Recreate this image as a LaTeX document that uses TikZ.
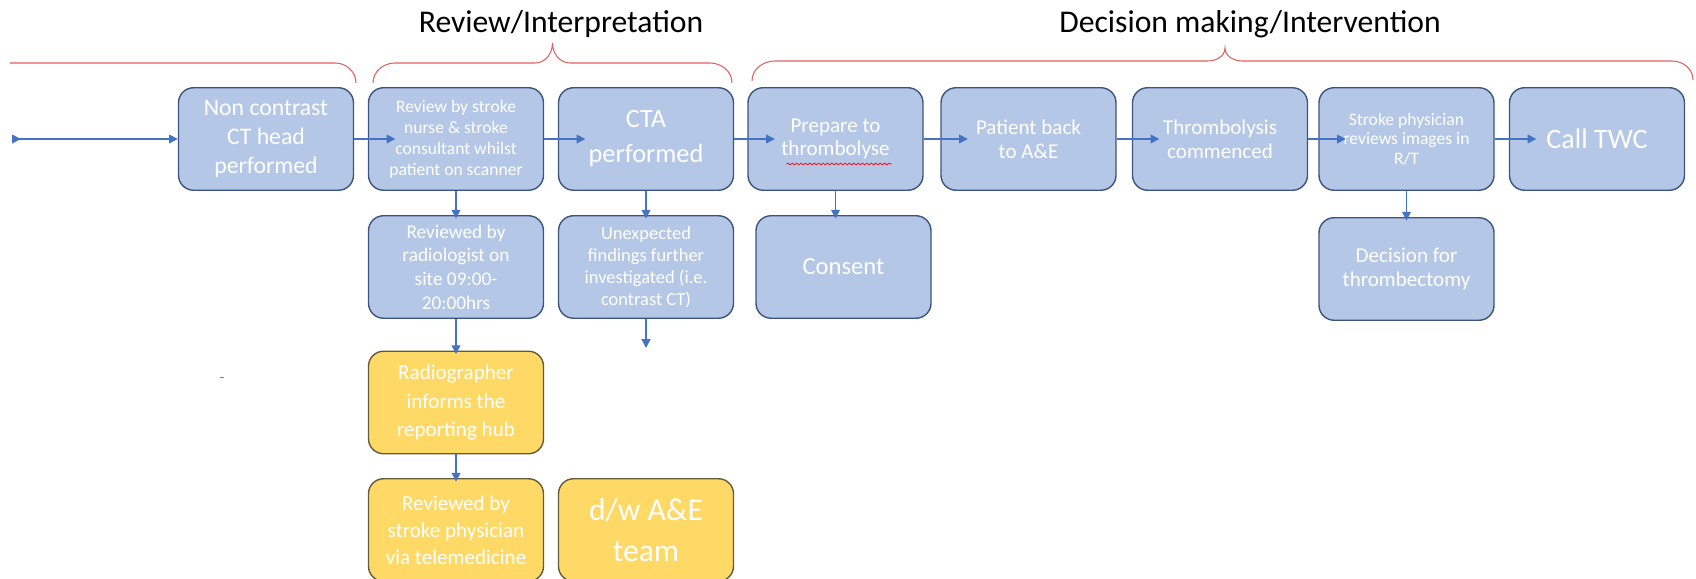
\documentclass[tikz,border=0pt]{standalone}
\usepackage{fontspec}
\setmainfont{Carlito}
\usetikzlibrary{arrows.meta,decorations.pathmorphing}

\definecolor{boxblue}{RGB}{180,199,231}
\definecolor{boxedge}{RGB}{60,84,128}
\definecolor{hubyellow}{RGB}{255,217,102}
\definecolor{hubedge}{RGB}{100,90,60}
\definecolor{flowblue}{RGB}{68,114,196}
\definecolor{bracketred}{RGB}{226,96,96}

\newcommand{\sz}[2]{\fontsize{#1}{#2}\selectfont}

\begin{document}
\begin{tikzpicture} [scale = 1,
  stepbox/.style = {draw = boxedge, fill = boxblue, line width = 0.8pt, rounded corners = 0.3cm,
    minimum width = 3.5cm, minimum height = 2.05cm, inner sep = 1pt, align = center, text = white},
  hubbox/.style = {stepbox, draw = hubedge, fill = hubyellow},
  flow/.style = {flowblue, line width = 0.8pt, -{Triangle[length = 5pt, width = 5pt]}},
  bracket/.style = {bracketred, line width = 0.6pt}]
\useasboundingbox (0.0, 0.0) rectangle (33.92, 11.58);
\node[anchor = base, font = \sz{18}{20}] (review) at (11.22, 10.92) {Review/Interpretation};
\node[anchor = base, font = \sz{18}{20}] (decision) at (25.0, 10.92) {Decision making/Intervention};
\draw[bracket] (0.2, 10.32) -- (6.7, 10.32) to[out = 0, in = 90] (7.12, 9.92);
\draw[bracket] (7.46, 9.92) to[out = 90, in = 180] (7.9, 10.32) -- (10.7, 10.32) to[out = 0, in = -90] (11.05, 10.72)
  to[out = -90, in = 180] (11.4, 10.32) -- (14.2, 10.32) to[out = 0, in = 90] (14.64, 9.92);
\draw[bracket] (15.04, 9.96) to[out = 90, in = 180] (15.5, 10.36) -- (24.15, 10.36) to[out = 0, in = -90] (24.5, 10.62)
  to[out = -90, in = 180] (24.85, 10.36) -- (33.44, 10.36) to[out = 0, in = 90] (33.86, 9.98);
\node[stepbox, font = \sz{13.5}{16.5}] (nc) at (5.32, 8.8) {Non contrast\\CT head\\performed};
\node[stepbox, font = \sz{10}{12}] (rev) at (9.12, 8.8) {Review by stroke\\nurse \& stroke\\consultant whilst\\patient on scanner};
\node[stepbox, font = \sz{15}{20}] (cta) at (12.92, 8.8) {CTA\\performed};
\node[stepbox, font = \sz{12}{13.5}] (prep) at (16.71, 8.8) {Prepare to\\thrombolyse};
\node[stepbox, font = \sz{12}{13.5}] (back) at (20.57, 8.8) {Patient back\\to A\&E};
\node[stepbox, font = \sz{12}{13.5}] (lysis) at (24.4, 8.8) {Thrombolysis\\commenced};
\node[stepbox, font = \sz{10}{11}] (phys) at (28.13, 8.8) {Stroke physician\\reviews images in\\R/T};
\node[stepbox, font = \sz{16}{18}] (twc) at (31.94, 8.8) {Call TWC};
\node[stepbox, font = \sz{11}{13.5}] (rad) at (9.12, 6.24) {Reviewed by\\radiologist on\\site 09:00-\\20:00hrs};
\node[stepbox, font = \sz{10.5}{12.5}] (unexp) at (12.92, 6.24) {Unexpected\\findings further\\investigated (i.e.\\contrast CT)};
\node[stepbox, font = \sz{14}{16}] (consent) at (16.87, 6.24) {Consent};
\node[stepbox, font = \sz{12}{14}] (thrombect) at (28.13, 6.2) {Decision for\\thrombectomy};
\node[hubbox, font = \sz{12}{16}] (radiog) at (9.12, 3.53) {Radiographer\\informs the\\reporting hub};
\node[hubbox, font = \sz{12}{15.5}] (tele) at (9.12, 0.98) {Reviewed by\\stroke physician\\via telemedicine};
\node[hubbox, font = \sz{18}{23}] (dw) at (12.92, 0.98) {d/w A\&E\\team};
\node[text = gray, font = \sz{9}{9}] (dash) at (4.44, 3.98) {-};
\draw[red, decorate, decoration = {snake, amplitude = 0.5pt, segment length = 2.5pt}]
  ([xshift = -0.98cm, yshift = -0.5cm]prep.center) -- ++(2.1, 0.0);
\coordinate (entry) at (0.24, 8.8);
\coordinate (unexpend) at (12.92, 4.62);
\draw[flow, {Triangle[reversed, length = 5pt, width = 5pt]}-{Triangle[length = 5pt, width = 5pt]}] (entry) -- (nc);
\foreach \a/\b in {nc/rev, rev/cta, cta/prep, prep/back, back/lysis, lysis/phys, phys/twc}
  \draw[flow, shorten >= -0.55cm] (\a) -- (\b);
\draw[flow, shorten >= -2pt] (rev) -- (rad);
\draw[flow, shorten >= -2pt] (rad) -- (radiog);
\draw[flow, shorten >= -2pt] (radiog) -- (tele);
\draw[flow, shorten >= -2pt] (cta) -- (unexp);
\draw[flow] (unexp) -- (unexpend);
\draw[flow, shorten >= -2pt] (prep.south) -- (prep.south |- consent.north);
\draw[flow, shorten >= -2pt] (phys) -- (thrombect);
\end{tikzpicture}
\end{document}
